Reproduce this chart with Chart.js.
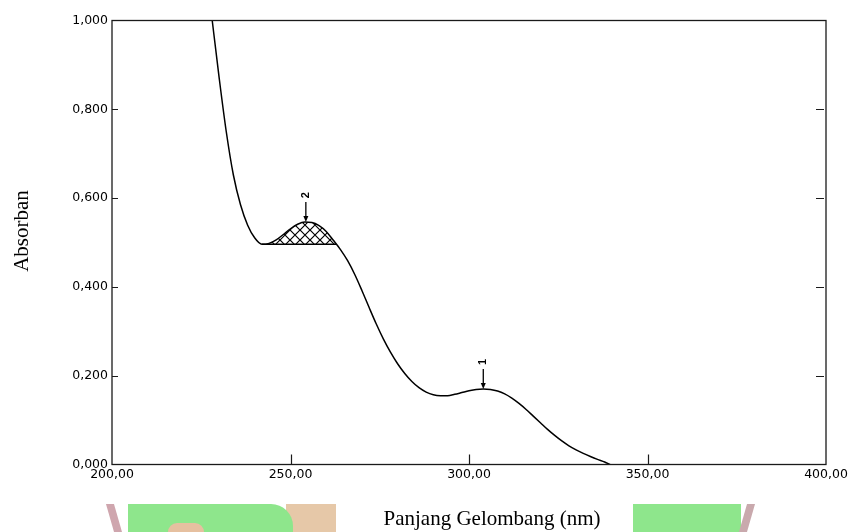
<!DOCTYPE html>
<html>
<head>
<meta charset="utf-8">
<script src="https://cdn.jsdelivr.net/npm/chart.js@4/dist/chart.umd.min.js"></script>
<style>
  html, body { margin: 0; padding: 0; background: #ffffff; }
  #wrap { position: relative; width: 848px; height: 532px; overflow: hidden; }
  .wm { position: absolute; }
  canvas { position: absolute; left: 0; top: 0; }
</style>
</head>
<body>
<div id="wrap">
  <!-- faint logo watermark pieces at the bottom -->
  <div class="wm" style="left:286px;top:504px;width:50px;height:28px;background:#e6c8a8;"></div>
  <div class="wm" style="left:128px;top:504px;width:165px;height:28px;background:#8ee68c;border-radius:0 22px 0 0;"></div>
  <div class="wm" style="left:168px;top:523px;width:36px;height:9px;background:#e6c0a0;border-radius:14px 14px 0 0;"></div>
  <div class="wm" style="left:110px;top:504px;width:8px;height:28px;background:#cfa6ae;transform:skewX(16deg);"></div>
  <div class="wm" style="left:633px;top:504px;width:108px;height:28px;background:#8ee68c;"></div>
  <div class="wm" style="left:743px;top:504px;width:8px;height:28px;background:#c9a9ad;transform:skewX(-16deg);"></div>
  <canvas id="c" width="848" height="532"></canvas>
</div>
<script>
// ---- data ----
const wavelengths = [226, 228, 230, 232, 234, 236, 238, 240, 242, 244, 246, 248, 250, 252, 254, 256, 258, 260, 262, 264, 266, 268, 270, 272, 274, 276, 278, 280, 282, 284, 286, 288, 290, 292, 294, 296, 298, 300, 302, 304, 306, 308, 310, 312, 314, 316, 318, 320, 322, 324, 326, 328, 330, 332, 334, 336, 338, 339.5];
const absorbance = [1.14, 1.005, 0.872, 0.750, 0.652, 0.585, 0.539, 0.510, 0.496, 0.498, 0.506, 0.518, 0.531, 0.541, 0.546, 0.545, 0.538, 0.525, 0.505, 0.484, 0.459, 0.428, 0.392, 0.354, 0.317, 0.283, 0.253, 0.227, 0.205, 0.187, 0.173, 0.163, 0.157, 0.155, 0.155, 0.158, 0.162, 0.166, 0.169, 0.170, 0.169, 0.1655, 0.159, 0.1495, 0.1375, 0.124, 0.109, 0.094, 0.079, 0.0655, 0.053, 0.042, 0.033, 0.025, 0.018, 0.0115, 0.0055, 0.000];
const hatchRange = [242, 262.8];   // nm, shaded peak area
const hatchBase = 0.496;           // baseline absorbance of shaded area
const peakLabels = ["1", "2"];
const peakNm = [304.0, 254.3];
const peakAbs = [0.170, 0.546];
const xTicks = [200, 250, 300, 350, 400];
const yTicks = [0, 0.2, 0.4, 0.6, 0.8, 1.0];
const xTitle = "Panjang Gelombang (nm)";
const yTitle = "Absorban";

// ---- build datasets ----
const curve = wavelengths.map((w, i) => ({ x: w, y: absorbance[i] }));
const hatchPts = [{ x: hatchRange[0], y: hatchBase }]
  .concat(curve.filter(p => p.x > hatchRange[0] && p.x < hatchRange[1]))
  .concat([{ x: hatchRange[1], y: hatchBase }]);
const basePts = [{ x: hatchRange[0], y: hatchBase }, { x: hatchRange[1], y: hatchBase }];

function makeHatch() {
  const s = 10;
  const pc = document.createElement('canvas');
  pc.width = s; pc.height = s;
  const g = pc.getContext('2d');
  g.strokeStyle = '#000';
  g.lineWidth = 1.2;
  g.beginPath();
  g.moveTo(-1, -1); g.lineTo(s + 1, s + 1);
  g.moveTo(-1, s + 1); g.lineTo(s + 1, -1);
  g.stroke();
  return g.createPattern(pc, 'repeat');
}

const fmtComma = (v, d) => Number(v).toFixed(d).replace('.', ',');

const framePlugin = {
  id: 'frame',
  afterDatasetsDraw(chart) {
    const { ctx, chartArea: a, scales } = chart;
    ctx.save();
    ctx.strokeStyle = '#1a1a1a';
    ctx.lineWidth = 1.3;
    ctx.strokeRect(a.left, a.top, a.right - a.left, a.bottom - a.top);
    ctx.lineWidth = 1.2;
    ctx.beginPath();
    yTicks.forEach(v => {
      if (v <= 0 || v >= 1) return;
      const py = Math.round(scales.y.getPixelForValue(v)) + 0.5;
      ctx.moveTo(a.left, py); ctx.lineTo(a.left + 6, py);
      ctx.moveTo(a.right - 10, py); ctx.lineTo(a.right - 2, py);
    });
    xTicks.forEach(v => {
      if (v <= 200 || v >= 400) return;
      const px = Math.round(scales.x.getPixelForValue(v)) + 0.5;
      ctx.moveTo(px, a.bottom); ctx.lineTo(px, a.bottom - 10);
    });
    ctx.stroke();

    // peak markers
    peakNm.forEach((nm, i) => {
      const px = scales.x.getPixelForValue(nm);
      const py = scales.y.getPixelForValue(peakAbs[i]);
      ctx.strokeStyle = '#000';
      ctx.fillStyle = '#000';
      ctx.lineWidth = 1.3;
      ctx.beginPath();
      ctx.moveTo(px, py - 20); ctx.lineTo(px, py - 4);
      ctx.stroke();
      ctx.beginPath();
      ctx.moveTo(px - 2.5, py - 6); ctx.lineTo(px + 2.5, py - 6); ctx.lineTo(px, py); ctx.closePath();
      ctx.fill();
      ctx.save();
      ctx.translate(px, py - 27);
      ctx.rotate(-Math.PI / 2);
      ctx.font = 'bold 11px "Liberation Sans", Arial, sans-serif';
      ctx.textAlign = 'center';
      ctx.textBaseline = 'middle';
      ctx.fillText(peakLabels[i], 0, 0);
      ctx.restore();
    });

    // axis titles
    ctx.fillStyle = '#000';
    ctx.font = '21px "Liberation Serif", "Times New Roman", serif';
    ctx.textAlign = 'center';
    ctx.textBaseline = 'alphabetic';
    ctx.fillText(xTitle, 492, 525);
    ctx.save();
    ctx.translate(28, 231);
    ctx.rotate(-Math.PI / 2);
    ctx.fillText(yTitle, 0, 0);
    ctx.restore();
    ctx.restore();
  }
};

new Chart(document.getElementById('c'), {
  type: 'scatter',
  data: {
    datasets: [
      { data: curve, showLine: true, borderColor: '#000', borderWidth: 1.5, pointRadius: 0, cubicInterpolationMode: 'monotone', fill: false, order: 1 },
      { data: hatchPts, showLine: true, borderWidth: 0, borderColor: 'rgba(0,0,0,0)', backgroundColor: makeHatch(), pointRadius: 0, cubicInterpolationMode: 'monotone', fill: { value: hatchBase }, order: 3 },
      { data: basePts, showLine: true, borderColor: '#000', borderWidth: 1.5, pointRadius: 0, fill: false, order: 2 }
    ]
  },
  options: {
    responsive: false,
    animation: false,
    devicePixelRatio: 1,
    layout: { padding: { left: 0, top: 20.5, right: 22, bottom: 0 } },
    plugins: { legend: { display: false }, tooltip: { enabled: false } },
    scales: {
      x: {
        type: 'linear', min: 200, max: 400,
        afterBuildTicks: s => { s.ticks = xTicks.map(v => ({ value: v })); },
        afterFit: s => { s.height = 532 - 464.5; s.paddingLeft = 0; s.paddingRight = 0; },
        grid: { display: false, drawTicks: false },
        border: { display: false },
        ticks: { autoSkip: false, maxRotation: 0, padding: 3, color: '#000',
                 font: { family: '"DejaVu Sans", sans-serif', size: 12.5 },
                 callback: v => fmtComma(v, 2) }
      },
      y: {
        type: 'linear', min: 0, max: 1,
        afterBuildTicks: s => { s.ticks = yTicks.map(v => ({ value: v })); },
        afterFit: s => { s.width = 112; s.paddingTop = 0; s.paddingBottom = 0; },
        grid: { display: false, drawTicks: false },
        border: { display: false },
        ticks: { autoSkip: false, padding: 4, color: '#000',
                 font: { family: '"DejaVu Sans", sans-serif', size: 12.5 },
                 callback: v => fmtComma(v, 3) }
      }
    }
  },
  plugins: [framePlugin]
});
</script>
</body>
</html>
